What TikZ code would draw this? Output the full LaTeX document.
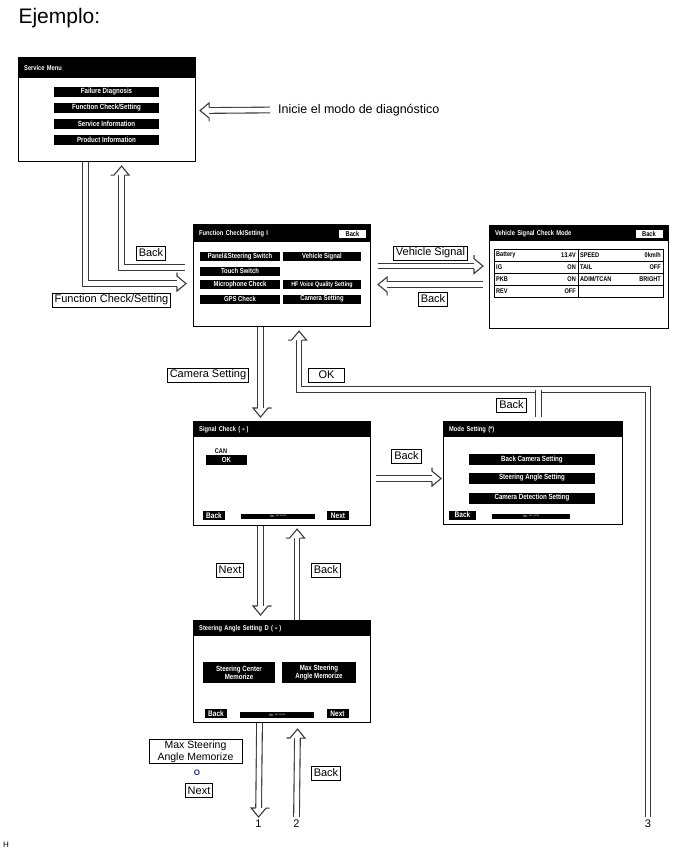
\documentclass[tikz,border=0pt]{standalone}
\usepackage{fontspec}
\setmainfont{Liberation Sans}
\newfontfamily\condfont[FakeStretch=0.82]{Liberation Sans}
\usetikzlibrary{positioning, calc, decorations.markings}
\definecolor{pipegray}{HTML}{3A3A3A}
\definecolor{orblue}{HTML}{1F2A80}

\newcommand\hollowtip{%
  \fill[white] (-9,7.5) -- (0,0) -- (-9,-7.5) -- cycle;
  \draw[pipegray, line width=1.1pt, line join=miter] (-9,2.95) -- (-9,7.5) -- (0,0) -- (-9,-7.5) -- (-9,-2.95);}

\tikzset{
  screen/.style={draw, line width=1.1pt, anchor=north west, inner sep=0pt},
  titlebar/.style={fill=black, text=white, anchor=north west, inner xsep=6pt, inner ysep=0pt, align=left, font=\condfont\bfseries\fontsize{7}{8}\selectfont},
  btn/.style={fill=black, text=white, inner sep=0pt, align=center, font=\condfont\bfseries\fontsize{7.5}{8}\selectfont},
  wbtn/.style={draw, fill=white, line width=0.6pt, inner sep=0pt, minimum width=28, minimum height=9, font=\condfont\bfseries\fontsize{7}{8}\selectfont},
  navbtn/.style={btn, minimum width=22, minimum height=9, font=\condfont\bfseries\fontsize{8}{8}\selectfont},
  verbar/.style={fill=black, text=white, inner sep=0pt, minimum width=74, minimum height=5.5, font=\condfont\fontsize{3.6}{4}\selectfont},
  cell/.style={inner sep=0pt, font=\condfont\bfseries\fontsize{6.8}{7}\selectfont},
  lbl/.style={draw, fill=white, line width=0.9pt, inner xsep=2.5pt, inner ysep=1pt, minimum height=14, font=\fontsize{11}{12}\selectfont},
  pipe/.style={draw=pipegray, line width=1.1pt, double=white, double distance=4.6pt},
  hollow/.style={pipe, shorten >=8pt, postaction={decorate, decoration={markings, mark=at position 1 with {\hollowtip}}}},
}

\begin{document}
\begin{tikzpicture}[x=1pt, y=-1pt]
  \useasboundingbox (0,0) rectangle (688,852);

  \node[anchor=west, font=\fontsize{21}{23}\selectfont] (ejemplo) at (15,18) {Ejemplo:};

  % Service Menu
  \node[screen, minimum width=177, minimum height=104] (svc) at (18,57) {};
  \node[titlebar, text width=165, minimum height=21] (svctitle) at (svc.north west) {Service Menu};
  \foreach \txt [count=\i] in {Failure Diagnosis, Function Check/Setting, Service Information, Product Information}
    \node[btn, minimum width=105, minimum height=10] (svcbtn\i) at (106.5,76+16*\i) {\txt};

  % Function Check/Setting
  \node[screen, minimum width=177, minimum height=102] (fc) at (193,224) {};
  \node[titlebar, text width=165, minimum height=18] (fctitle) at (fc.north west) {Function Check/Setting I};
  \node[wbtn] (fcback) at (352.5,233.5) {Back};
  \tikzset{fcbtn/.style={btn, minimum height=9, font=\condfont\bfseries\fontsize{7.2}{8}\selectfont}}
  \node[fcbtn, minimum width=80] (fcpanel) at (240,256.5) {Panel\&Steering Switch};
  \node[fcbtn, minimum width=80] (fctouch) at (240,271) {Touch Switch};
  \node[fcbtn, minimum width=80] (fcmic) at (240,284.5) {Microphone Check};
  \node[fcbtn, minimum width=80] (fcgps) at (240,299) {GPS Check};
  \node[fcbtn, minimum width=78] (fcveh) at (322,256.5) {Vehicle Signal};
  \node[fcbtn, minimum width=78, font=\condfont\bfseries\fontsize{6.5}{7}\selectfont] (fchf) at (322,284.5) {HF Voice Quality Setting};
  \node[fcbtn, minimum width=78] (fccam) at (322,299) {Camera Setting};

  % Vehicle Signal Check Mode
  \node[screen, minimum width=179, minimum height=103] (vs) at (489,225) {};
  \node[titlebar, text width=167, minimum height=16] (vstitle) at (vs.north west) {Vehicle Signal Check Mode};
  \node[wbtn] (vsback) at (649,233.5) {Back};
  \draw[line width=0.6pt] (494,249) rectangle (663,297);
  \foreach \yy in {261,273,285} \draw[line width=0.6pt] (494,\yy) -- (663,\yy);
  \draw[line width=0.6pt] (578,249) -- (578,297);
  \foreach \la/\va/\lb/\vb [count=\r] in {Battery/13.4V/SPEED/{0km/h}, IG/ON/TAIL/OFF, PKB/ON/{ADIM/TCAN}/BRIGHT, REV/OFF//}{
    \node[cell, anchor=west] at (496,243+12*\r) {\la};
    \node[cell, anchor=east] at (576,243+12*\r) {\va};
    \node[cell, anchor=west] at (580,243+12*\r) {\lb};
    \node[cell, anchor=east] at (661,243+12*\r) {\vb};
  }

  % Signal Check
  \node[screen, minimum width=177, minimum height=104] (sc) at (193,421) {};
  \node[titlebar, text width=165, minimum height=16] (sctitle) at (sc.north west) {Signal Check (\,$\ast$\,)};
  \node[cell] (sccan) at (221,451) {CAN};
  \node[btn, minimum width=41, minimum height=10] (scok) at (226.5,460) {OK};
  \node[navbtn] (scback) at (214,515.5) {Back};
  \node[verbar] (scver) at (278,516.5) {Ver. *** *****};
  \node[navbtn] (scnext) at (338,515.5) {Next};

  % Mode Setting
  \node[screen, minimum width=179, minimum height=103] (ms) at (443,421) {};
  \node[titlebar, text width=167, minimum height=16] (mstitle) at (ms.north west) {Mode Setting (*)};
  \node[btn, minimum width=126, minimum height=11] (msback) at (532,459.5) {Back Camera Setting};
  \node[btn, minimum width=126, minimum height=11] (mssteer) at (532,478) {Steering Angle Setting};
  \node[btn, minimum width=126, minimum height=11] (msdet) at (532,498) {Camera Detection Setting};
  \node[navbtn, minimum width=27] (msbackbtn) at (462.5,515) {Back};
  \node[verbar, minimum width=78] (msver) at (531,516.5) {Ver. *** *****};

  % Steering Angle Setting
  \node[screen, minimum width=177, minimum height=102] (st) at (193,620) {};
  \node[titlebar, text width=165, minimum height=16] (sttitle) at (st.north west) {Steering Angle Setting D (\,$\ast$\,)};
  \node[btn, minimum width=72, minimum height=21] (stcenter) at (239,672.5) {Steering Center\\Memorize};
  \node[btn, minimum width=74, minimum height=21] (stmax) at (319,672.5) {Max Steering\\Angle Memorize};
  \node[navbtn] (stback) at (216,713.5) {Back};
  \node[verbar] (stver) at (277,715) {Ver. *** *****};
  \node[navbtn] (stnext) at (337.5,713.5) {Next};

  % bottom ends
  \node[font=\fontsize{11}{12}\selectfont, inner sep=1pt] (num1) at (258.5,824) {1};
  \node[font=\fontsize{11}{12}\selectfont, inner sep=1pt] (num2) at (296.5,824) {2};
  \node[font=\fontsize{11}{12}\selectfont, inner sep=1pt] (num3) at (648,824) {3};
  \node[anchor=west, font=\fontsize{8}{9}\selectfont, inner sep=0pt] (hmark) at (3,845) {H};

  % flow arrows
  \node[anchor=west, font=\fontsize{12.5}{14}\selectfont, inner sep=0pt] (inicie) at (278,110) {Inicie el modo de diagn\'ostico};
  \draw[hollow] ($(inicie.west)+(-8,0)$) -- ($(svc.east)+(4,1)$);
  \draw[hollow] ($(svc.south)+(-21.5,0)$) |- ($(fc.west)+(-7,8)$);
  \draw[hollow] ($(fc.west)+(-8,-8)$) -| ($(svc.south)+(14.5,4)$);
  \draw[hollow] ($(fc.east)+(7,-9.5)$) -- ($(vs.west)+(-6,-11)$);
  \draw[hollow] ($(vs.west)+(-6,7.5)$) -- ($(fc.east)+(7,9)$);
  \draw[hollow] ($(fc.south)+(-21.5,0)$) -- ($(sc.north)+(-21.5,-4)$);
  \coordinate (okturn) at ($(fc.south)+(17,62.5)$);
  \draw[hollow] ($(num3.north)+(0,-2)$) |- (okturn) -- ($(fc.south)+(17,4)$);
  \draw[pipe] ($(ms.north)+(5.5,-4)$) -- ($(ms.north)+(5.5,-32.5)$);
  \draw[white, line width=3.6pt] ($(ms.north)+(-4,-32.5)$) -- ($(ms.north)+(15,-32.5)$);
  \draw[hollow] ($(sc.east)+(5,5)$) -- ($(ms.west)+(-2,5.5)$);
  \draw[hollow] ($(sc.south)+(-21.5,0)$) -- ($(st.north)+(-21.5,-5)$);
  \draw[hollow] ($(st.north)+(15,0)$) -- ($(sc.south)+(15,3)$);
  \draw[hollow] ($(st.south)+(-22.5,0)$) -- ($(num1.north)+(0,-2)$);
  \draw[hollow] ($(num2.north)+(0,-2)$) -- ($(st.south)+(15.5,6)$);

  % labels
  \node[lbl] (lblback1) at (151,253) {Back};
  \node[lbl] (lblfcs) at (111.5,300) {Function Check/Setting};
  \node[lbl] (lblveh) at (430.5,253) {Vehicle Signal};
  \node[lbl] (lblback2) at (433,299) {Back};
  \node[lbl] (lblcam) at (208,375) {Camera Setting};
  \node[lbl, minimum width=36] (lblok) at (326.5,375) {OK};
  \node[lbl] (lblback3) at (511.5,405) {Back};
  \node[lbl] (lblback4) at (406.5,456) {Back};
  \node[lbl] (lblnext1) at (230,570) {Next};
  \node[lbl] (lblback5) at (326,570) {Back};
  \node[lbl, align=center, minimum width=93, font=\fontsize{10.5}{12}\selectfont] (lblmax) at (195.5,751.5) {Max Steering\\Angle Memorize};
  \node[text=orblue, font=\fontsize{8}{9}\selectfont\bfseries, inner sep=0pt] (lblor) at (197,773) {O};
  \node[lbl] (lblnext2) at (199,790.5) {Next};
  \node[lbl] (lblback6) at (326,773) {Back};
\end{tikzpicture}
\end{document}
